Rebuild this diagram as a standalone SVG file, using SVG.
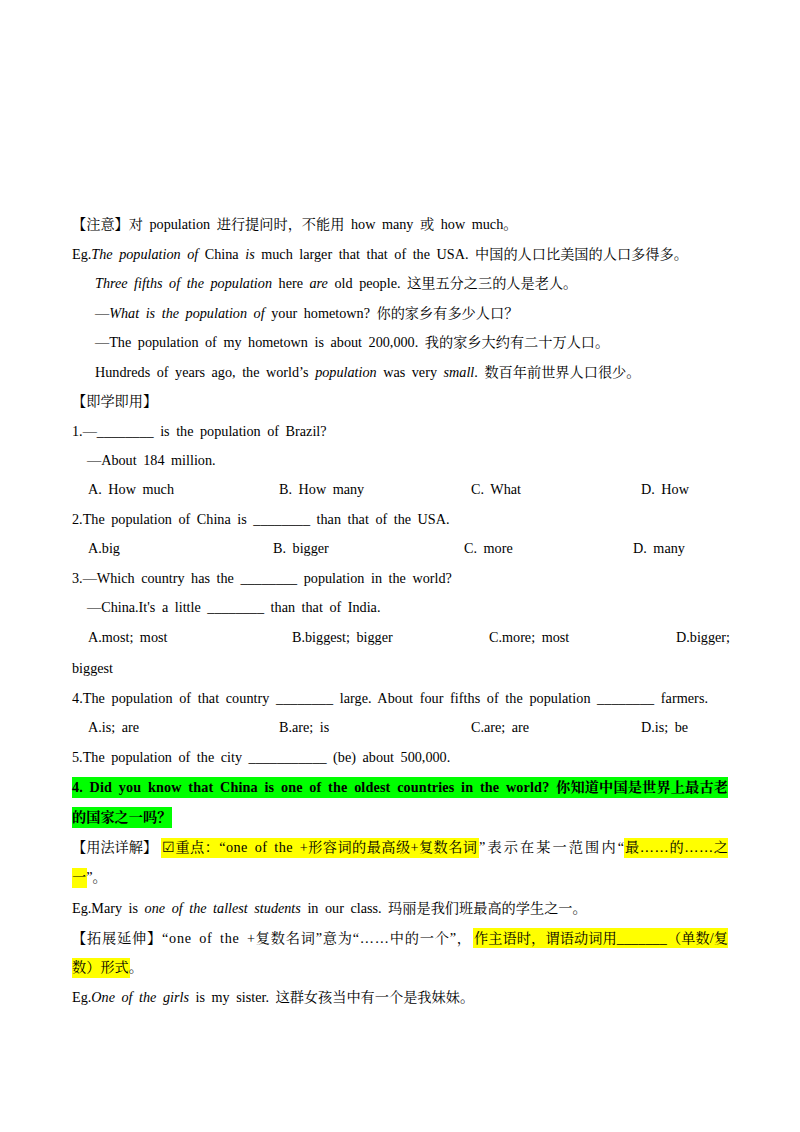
<svg xmlns="http://www.w3.org/2000/svg" width="800" height="1132" viewBox="0 0 800 1132">
<style>
text{font-family:"Liberation Serif","Noto Serif CJK SC","Noto Sans CJK SC",serif;font-size:14.2px;fill:#000;word-spacing:3px}
.i{font-style:italic}
.b{font-weight:bold}
.g{fill:#00ff00}
.y{fill:#ffff00}
</style>
<rect width="800" height="1132" fill="#fff"/>
<g id="highlights">
<rect class="g" x="72" y="777" width="656" height="21"/>
<rect class="g" x="72" y="807" width="100" height="21"/>
<rect class="y" x="161" y="838" width="318" height="20"/>
<rect class="y" x="624" y="838" width="104" height="20"/>
<rect class="y" x="72" y="868" width="15" height="20"/>
<rect class="y" x="473" y="928" width="255" height="20"/>
<rect class="y" x="72" y="958" width="58" height="20"/>
</g>
<g id="text">
<text x="72" y="229">【注意】对 population 进行提问时，不能用 how  many 或 how  much。</text>
<text x="72" y="259">Eg.<tspan class="i">The population of</tspan> China <tspan class="i">is</tspan> much larger that that of the USA. 中国的人口比美国的人口多得多。</text>
<text x="95" y="288"><tspan class="i">Three fifths of the population</tspan> here <tspan class="i">are</tspan> old people. 这里五分之三的人是老人。</text>
<text x="95" y="318">—<tspan class="i">What is the population of</tspan> your hometown? 你的家乡有多少人口？</text>
<text x="95" y="347">—The population of my hometown is about 200,000. 我的家乡大约有二十万人口。</text>
<text x="95" y="377">Hundreds of years ago, the world’s <tspan class="i">population</tspan> was very <tspan class="i">small</tspan>. 数百年前世界人口很少。</text>
<text x="72" y="406">【即学即用】</text>
<text x="72" y="436">1.—________ is the population of Brazil?</text>
<text x="87" y="465">—About 184 million.</text>
<text x="88" y="494">A. How much</text><text x="279" y="494">B. How many</text><text x="471" y="494">C. What</text><text x="641" y="494">D. How</text>
<text x="72" y="524">2.The population of China is ________ than that of the USA.</text>
<text x="88" y="553">A.big</text><text x="273" y="553">B. bigger</text><text x="464" y="553">C. more</text><text x="633" y="553">D. many</text>
<text x="72" y="583">3.—Which country has the ________ population in the world?</text>
<text x="87" y="612">—China.It's a little ________ than that of India.</text>
<text x="88" y="642">A.most; most</text><text x="292" y="642">B.biggest; bigger</text><text x="489" y="642">C.more; most</text><text x="676" y="642">D.bigger;</text>
<text x="72" y="673">biggest</text>
<text x="72" y="703" textLength="636" lengthAdjust="spacing">4.The population of that country ________ large. About four fifths of the population ________ farmers.</text>
<text x="88" y="732">A.is; are</text><text x="279" y="732">B.are; is</text><text x="471" y="732">C.are; are</text><text x="641" y="732">D.is; be</text>
<text x="72" y="762">5.The population of the city ___________ (be) about 500,000.</text>
<text x="72" y="792" class="b" textLength="656" lengthAdjust="spacing">4. Did you know that China is one of the oldest countries in the world? 你知道中国是世界上最古老</text>
<text x="72" y="822" class="b">的国家之一吗？</text>
<text x="72" y="852">【用法详解】</text>
<text x="162" y="852" textLength="315" lengthAdjust="spacing">☑重点：“one of the +形容词的最高级+复数名词</text>
<text x="479" y="852" textLength="145" lengthAdjust="spacing">”表示在某一范围内“</text>
<text x="625" y="852" textLength="103" lengthAdjust="spacing">最……的……之</text>
<text x="72" y="882">一”。</text>
<text x="72" y="913">Eg.Mary is <tspan class="i">one of the tallest students</tspan> in our class. 玛丽是我们班最高的学生之一。</text>
<text x="72" y="943" textLength="399" lengthAdjust="spacing">【拓展延伸】“one of the +复数名词”意为“……中的一个”，</text>
<text x="474" y="943" textLength="254" lengthAdjust="spacing">作主语时，谓语动词用_______（单数/复</text>
<text x="72" y="972">数）形式。</text>
<text x="72" y="1002">Eg.<tspan class="i">One of the girls</tspan> is my sister. 这群女孩当中有一个是我妹妹。</text>
</g>
</svg>
